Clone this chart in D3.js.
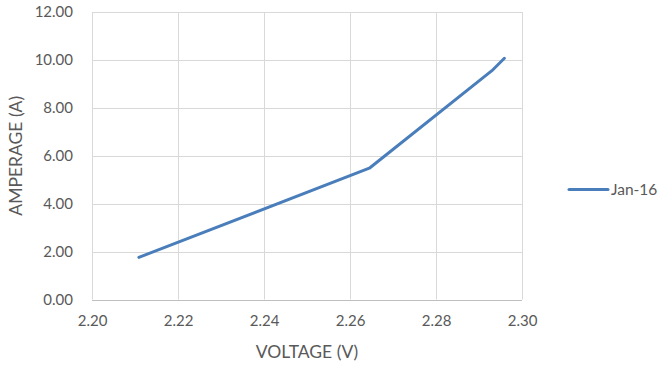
<!DOCTYPE html>
<html><head><meta charset="utf-8">
<script src="https://cdn.jsdelivr.net/npm/d3@7"></script>
<style>body{margin:0;background:#fff;} text{font-family:Lato, "Open Sans", sans-serif;}</style>
</head><body>
<svg id="c" width="663" height="365"></svg>
<script>
const voltage = [2.2109, 2.2645, 2.2930, 2.2959];
const amperage = [1.76, 5.48, 9.55, 10.07];
const seriesName = "Jan-16";
const xTicks = [2.20, 2.22, 2.24, 2.26, 2.28, 2.30];
const yTicks = [0, 2, 4, 6, 8, 10, 12];

const svg = d3.select("#c");
const L = 92, R = 522, T = 12, B = 299.5;
const x = d3.scaleLinear().domain([2.20, 2.30]).range([L, R]);
const y = d3.scaleLinear().domain([0, 12]).range([B, T]);
const textCol = "#595959";

// gridlines
svg.append("g").selectAll("line.h").data(yTicks).join("line")
  .attr("x1", L).attr("x2", R).attr("y1", d => Math.round(y(d)) + 0.5).attr("y2", d => Math.round(y(d)) + 0.5)
  .attr("stroke", d => d === 0 ? "#bfbfbf" : "#d9d9d9").attr("stroke-width", 1);
svg.append("g").selectAll("line.v").data(xTicks).join("line")
  .attr("y1", T).attr("y2", B).attr("x1", d => Math.round(x(d)) + 0.5).attr("x2", d => Math.round(x(d)) + 0.5)
  .attr("stroke", "#d9d9d9").attr("stroke-width", 1);

// x axis labels
const xa = d3.axisBottom(x).tickValues(xTicks).tickFormat(d3.format(".2f")).tickSize(0).tickPadding(16);
const gx = svg.append("g").attr("transform", `translate(0,${B})`).call(xa);
gx.select(".domain").remove();
gx.selectAll("text").attr("fill", textCol).style("font-size", "15px").style("font-family", "Lato, sans-serif");

const ya = d3.axisLeft(y).tickValues(yTicks).tickFormat(d3.format(".2f")).tickSize(0).tickPadding(19);
const gy = svg.append("g").attr("transform", `translate(${L},0)`).call(ya);
gy.select(".domain").remove();
gy.selectAll("text").attr("fill", textCol).style("font-size", "15px").style("font-family", "Lato, sans-serif");

// line
const pts = voltage.map((v, i) => [v, amperage[i]]);
svg.append("path").datum(pts)
  .attr("d", d3.line().x(d => x(d[0])).y(d => y(d[1])))
  .attr("fill", "none").attr("stroke", "#4a7ebb").attr("stroke-width", 3).attr("stroke-linecap", "round").attr("stroke-linejoin", "round");

// axis titles
svg.append("text").attr("x", (L + R) / 2).attr("y", 358).attr("text-anchor", "middle")
  .attr("fill", textCol).style("font-size", "17.5px").text("VOLTAGE (V)");
svg.append("text").attr("transform", `translate(22,${(T + B) / 2}) rotate(-90)`).attr("text-anchor", "middle")
  .attr("fill", textCol).style("font-size", "17.5px").text("AMPERAGE (A)");

// legend
svg.append("line").attr("x1", 569).attr("x2", 608).attr("y1", 189.5).attr("y2", 189.5)
  .attr("stroke", "#4a7ebb").attr("stroke-width", 3).attr("stroke-linecap", "round");
svg.append("text").attr("x", 611).attr("y", 195).attr("fill", textCol).style("font-size", "15.5px").text(seriesName);
</script>
</body></html>
